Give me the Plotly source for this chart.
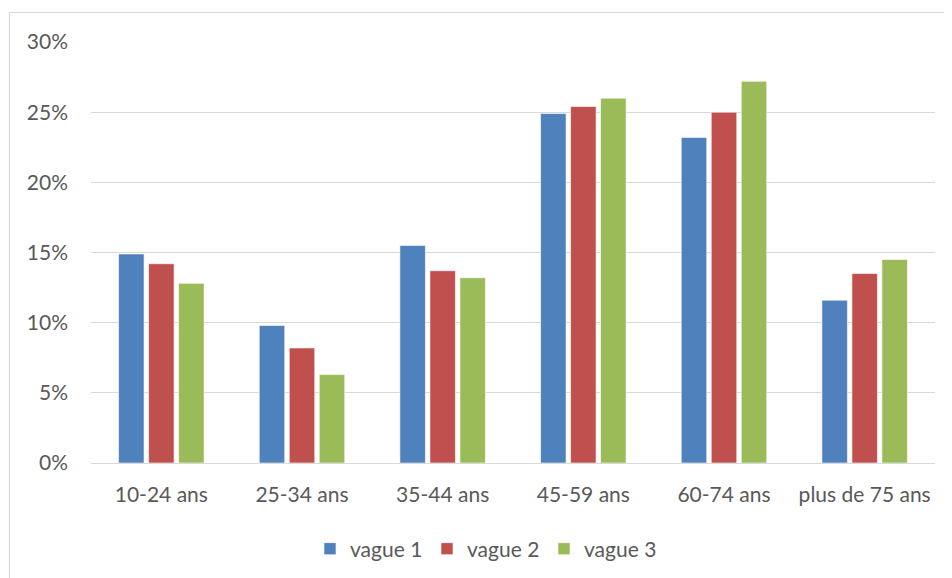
import plotly.graph_objects as go

# ---------- Data ----------
categories = ["10-24 ans", "25-34 ans", "35-44 ans", "45-59 ans", "60-74 ans", "plus de 75 ans"]
vague1 = [0.149, 0.098, 0.155, 0.249, 0.232, 0.116]
vague2 = [0.142, 0.082, 0.137, 0.254, 0.250, 0.135]
vague3 = [0.128, 0.063, 0.132, 0.260, 0.272, 0.145]
series_names = ["vague 1", "vague 2", "vague 3"]
colors = ["#4F81BD", "#C0504D", "#9BBB59"]
y_ticks = [0, 0.05, 0.10, 0.15, 0.20, 0.25, 0.30]

font = dict(family="Lato, Noto Sans, sans-serif", size=21, color="#595959")

# page body has an 8px margin, so the figure is 8px smaller than the window
W, H = 944, 570
L, R, T, B = 83, 17, 34, 115
pw, ph = W - L - R, H - T - B

# one legend per series so the entries sit where they do in the original
legend_keys = ["legend", "legend2", "legend3"]
legend_x = [302, 419, 536]  # left edge of each entry, figure pixels

fig = go.Figure()
for name, vals, col, lg in zip(series_names, [vague1, vague2, vague3], colors, legend_keys):
    fig.add_trace(go.Bar(x=categories, y=vals, name=name, legend=lg,
                         marker=dict(color=col, line=dict(color="white", width=0.6))))

legends = {
    lg: dict(x=(px - L) / pw, xanchor="left", y=(H - B - 541) / ph, yanchor="middle",
             font=font, itemwidth=30, bgcolor="rgba(0,0,0,0)")
    for lg, px in zip(legend_keys, legend_x)
}

fig.update_layout(
    width=W, height=H,
    margin=dict(l=L, r=R, t=T, b=B, autoexpand=False),
    paper_bgcolor="white", plot_bgcolor="white",
    font=font,
    barmode="group", bargap=0.36, bargroupgap=0.15,
    showlegend=True,
    shapes=[dict(type="rect", xref="paper", yref="paper",
                 x0=(1.5 - L) / pw, x1=1.2, y0=-0.6, y1=(H - B - 4.5) / ph,
                 line=dict(color="#d9d9d9", width=1.2), layer="below")],
    **legends,
)
fig.update_yaxes(range=[0, 0.30], tickvals=y_ticks, tickformat=".0%",
                 showgrid=True, gridcolor="#d9d9d9", gridwidth=1.3,
                 zeroline=True, zerolinecolor="#d9d9d9", zerolinewidth=1.3,
                 showline=False, ticklabelstandoff=22, tickfont=font)
fig.update_xaxes(showgrid=False, showline=False, ticklabelstandoff=17,
                 tickfont=font)

fig.write_html("out.html")
